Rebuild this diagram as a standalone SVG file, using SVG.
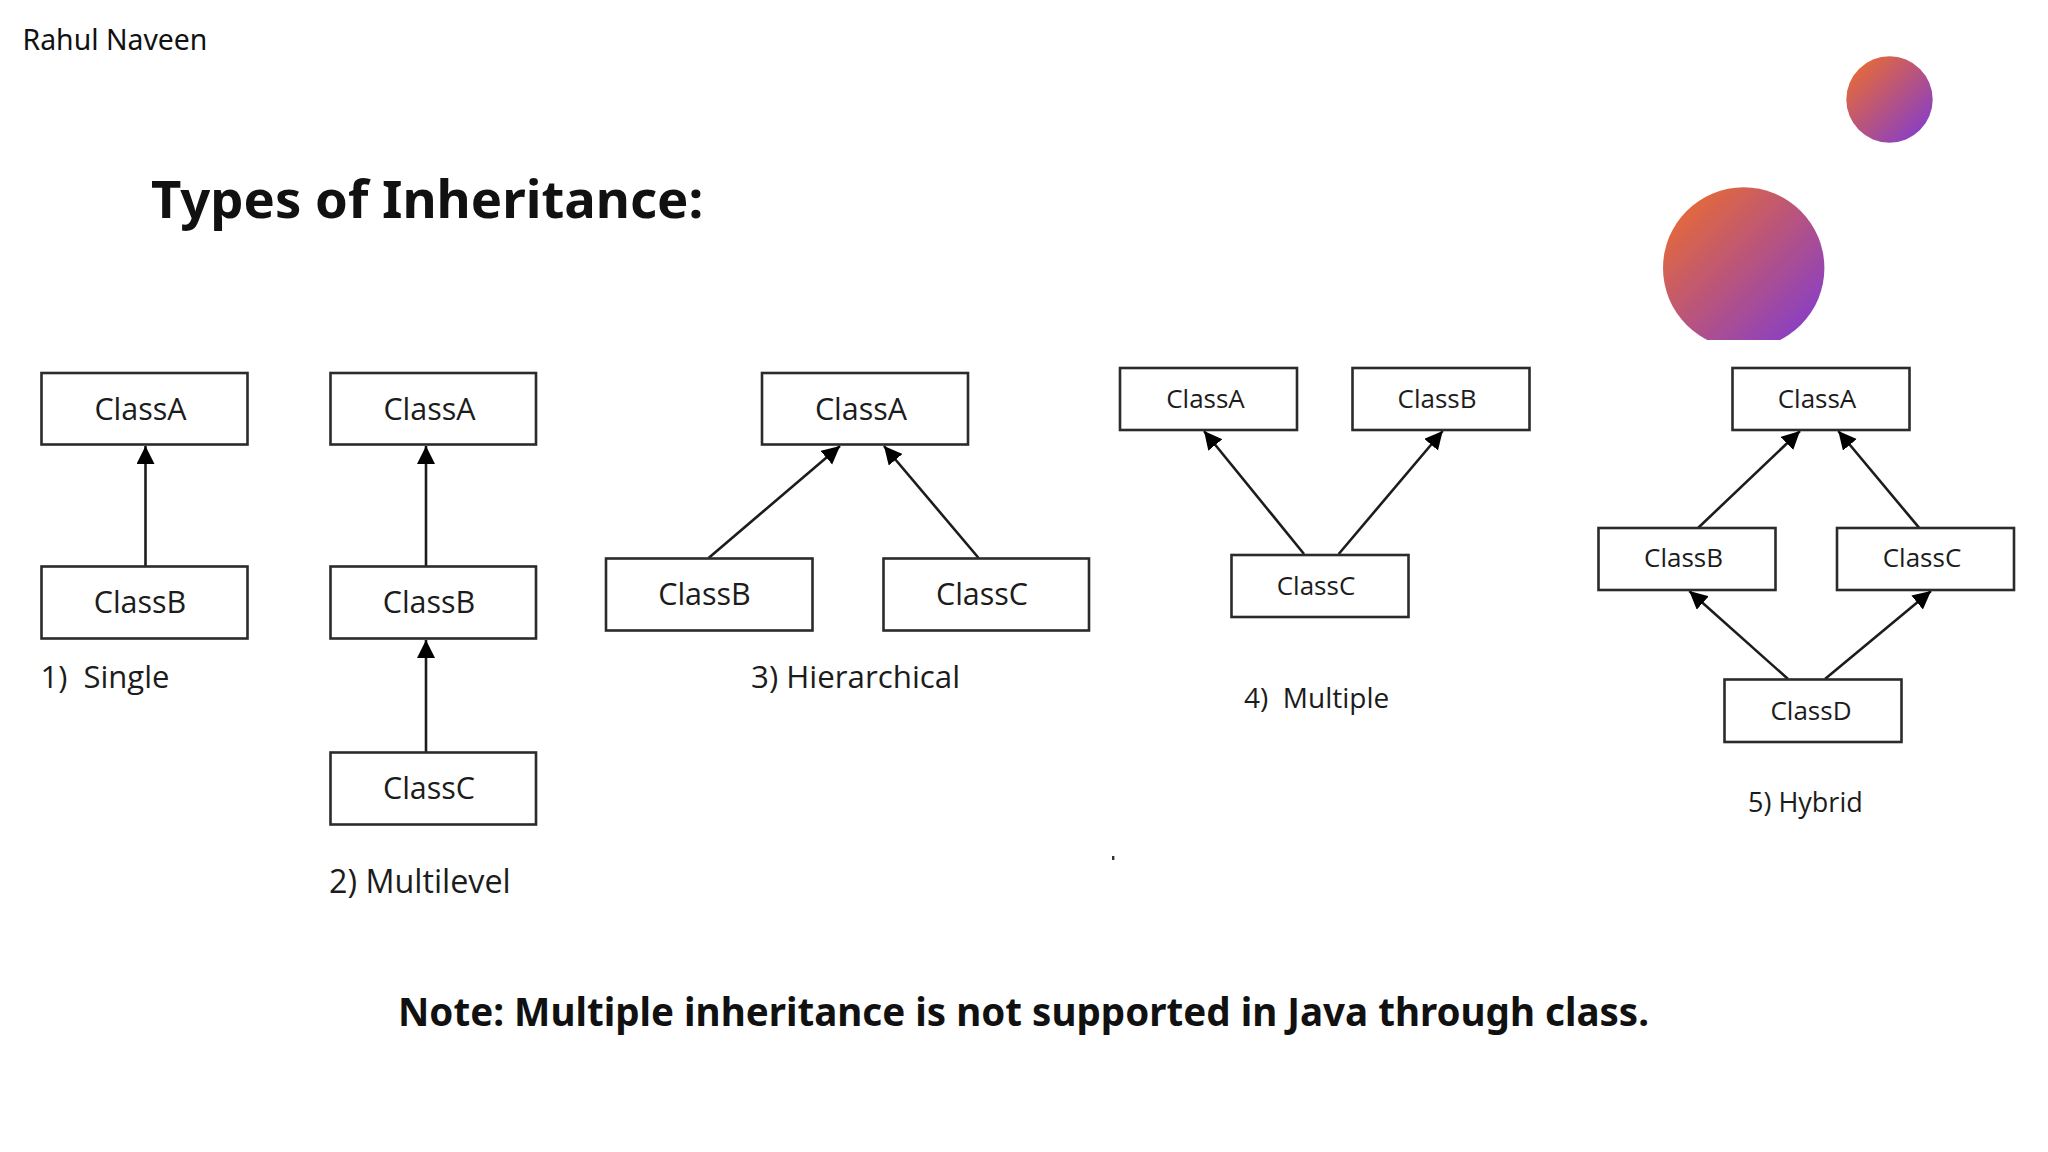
<svg xmlns="http://www.w3.org/2000/svg" width="2048" height="1152" viewBox="0 0 2048 1152">
<style>
.box{fill:#fff;stroke:#2b2b2b;stroke-width:2.6}
.lbl{font-family:"Open Sans","Noto Sans",sans-serif;font-size:30.500px;fill:#1c1c1c;text-anchor:middle}
.cap{font-family:"Open Sans","Noto Sans",sans-serif;fill:#1c1c1c}
.small{font-size:26px}
.conn{stroke:#1c1c1c;stroke-width:2.6;fill:none;marker-end:url(#arr)}
.title{font-family:"Noto Sans","Open Sans",sans-serif;font-weight:700;fill:#111}
</style>
<defs>
<marker id="arr" markerUnits="userSpaceOnUse" markerWidth="20" markerHeight="20" refX="18" refY="9" orient="auto"><path d="M0 0L18 9L0 18Z" fill="#000"/></marker>
<linearGradient id="g" x1="0.12" y1="0.12" x2="0.88" y2="0.88"><stop offset="0" stop-color="#e4693a"/><stop offset="1" stop-color="#8a3fc4"/></linearGradient>
<clipPath id="c"><rect x="1650" y="180" width="190" height="160"/></clipPath>
</defs>
<rect width="2048" height="1152" fill="#fff"/>
<text class="title" x="22.500" y="50" style="font-weight:400;font-size:28.400px">Rahul Naveen</text>
<text class="title" x="151" y="217.500" font-size="52.600">Types of Inheritance:</text>
<text class="title" x="398" y="1026" font-size="38.550">Note: Multiple inheritance is not supported in Java through class.</text>
<g id="deco">
<circle cx="1889.500" cy="99.500" r="43.200" fill="url(#g)"/>
<circle cx="1743.700" cy="268" r="80.700" fill="url(#g)" clip-path="url(#c)"/>
</g>
<g id="connectors">
<line class="conn" x1="145.500" y1="566" x2="145.500" y2="446"/>
<line class="conn" x1="426" y1="566" x2="426" y2="446"/>
<line class="conn" x1="426" y1="752" x2="426" y2="640"/>
<line class="conn" x1="708.600" y1="558" x2="840" y2="446"/>
<line class="conn" x1="978.600" y1="558" x2="884" y2="446"/>
<line class="conn" x1="1304" y1="554" x2="1204" y2="431"/>
<line class="conn" x1="1338.700" y1="554" x2="1442.700" y2="431"/>
<line class="conn" x1="1698.300" y1="527.700" x2="1800" y2="431"/>
<line class="conn" x1="1919" y1="527.700" x2="1838.300" y2="431"/>
<line class="conn" x1="1788" y1="679" x2="1689.300" y2="591"/>
<line class="conn" x1="1825" y1="679" x2="1931" y2="591"/>
</g>
<g id="single-a"><rect class="box" x="41.500" y="373" width="206" height="71.500"/><text class="lbl" x="140.500" y="419.500">ClassA</text></g>
<g id="single-b"><rect class="box" x="41.500" y="566.500" width="206" height="72"/><text class="lbl" x="140" y="613">ClassB</text></g>
<text class="cap" x="40.500" y="688" font-size="31" xml:space="preserve">1)  Single</text>
<g id="multi-a"><rect class="box" x="330.500" y="373" width="205.500" height="71.500"/><text class="lbl" x="429.500" y="419.500">ClassA</text></g>
<g id="multi-b"><rect class="box" x="330.500" y="566.500" width="205.500" height="72"/><text class="lbl" x="429" y="613">ClassB</text></g>
<g id="multi-c"><rect class="box" x="330.500" y="752.500" width="205.500" height="72"/><text class="lbl" x="429" y="798.500">ClassC</text></g>
<text class="cap" x="329" y="893" font-size="32.300">2) Multilevel</text>
<g id="hier-a"><rect class="box" x="762" y="373" width="206" height="71.500"/><text class="lbl" x="861" y="419.500">ClassA</text></g>
<g id="hier-b"><rect class="box" x="606" y="558.500" width="206.500" height="72"/><text class="lbl" x="704.500" y="605">ClassB</text></g>
<g id="hier-c"><rect class="box" x="883.500" y="558.500" width="205.500" height="72"/><text class="lbl" x="982" y="605">ClassC</text></g>
<text class="cap" x="751" y="688" font-size="31.300">3) Hierarchical</text>
<g id="mult-a"><rect class="box" x="1120" y="368" width="177" height="62"/><text class="lbl small" x="1205.500" y="408">ClassA</text></g>
<g id="mult-b"><rect class="box" x="1352.500" y="368" width="177" height="62"/><text class="lbl small" x="1437" y="408">ClassB</text></g>
<g id="mult-c"><rect class="box" x="1231.500" y="555" width="177" height="62"/><text class="lbl small" x="1316" y="595">ClassC</text></g>
<text class="cap" x="1244" y="707.500" font-size="28" xml:space="preserve">4)  Multiple</text>
<g id="hyb-a"><rect class="box" x="1732.500" y="368" width="177" height="62"/><text class="lbl small" x="1817" y="408">ClassA</text></g>
<g id="hyb-b"><rect class="box" x="1598.500" y="528" width="177" height="62"/><text class="lbl small" x="1683.500" y="567">ClassB</text></g>
<g id="hyb-c"><rect class="box" x="1837" y="528" width="177" height="62"/><text class="lbl small" x="1922" y="567">ClassC</text></g>
<g id="hyb-d"><rect class="box" x="1724.500" y="679.500" width="177" height="62.500"/><text class="lbl small" x="1811" y="720">ClassD</text></g>
<text class="cap" x="1748" y="811.500" font-size="27">5) Hybrid</text>
<rect x="1112" y="856" width="2.400" height="4" fill="#333"/>
</svg>
